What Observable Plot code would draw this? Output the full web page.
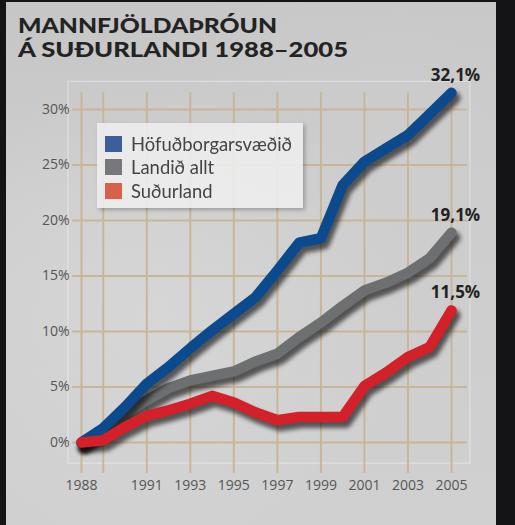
<!DOCTYPE html>
<html><head><meta charset="utf-8">
<script src="https://cdn.jsdelivr.net/npm/d3@7"></script>
<script src="https://cdn.jsdelivr.net/npm/@observablehq/plot@0.6"></script>
<style>
html,body{margin:0;padding:0;background:#141416;width:515px;height:525px;overflow:hidden}
#panel{position:absolute;left:6px;top:2px;width:490px;height:523px;
 background:
  radial-gradient(ellipse at 30% 60%, rgba(215,215,215,0.9), rgba(215,215,215,0) 55%),
  radial-gradient(ellipse at 80% 30%, rgba(205,205,205,0.8), rgba(205,205,205,0) 50%),
  linear-gradient(#c6c6c6, #cdcdcd 40%, #d0d0d0);}
#title{position:absolute;left:0;top:0;overflow:visible}
#chart{position:absolute;left:6px;top:80px}
#legend{position:absolute;left:97px;top:123px;width:206px;height:85px;background:rgba(238,238,238,0.88);box-shadow:2px 2px 4px rgba(0,0,0,0.25)}
.row{position:absolute;left:8px;height:17px;font-family:Lato,"Open Sans",sans-serif;font-size:19px;color:#444;white-space:nowrap}
.sw{position:absolute;left:0;top:0;width:17px;height:16px}
.lab{position:absolute;left:26px;top:-2px;transform-origin:0 0;line-height:20px;height:20px}
</style></head>
<body>
<div id="panel"></div>
<svg id="title" width="400" height="70"></svg>
<div id="chart"></div>
<div id="legend"></div>
<script>
const titleLines = ["MANNFJÖLDAÞRÓUN", "Á SUÐURLANDI 1988–2005"];
const years = [1988,1989,1990,1991,1992,1993,1994,1995,1996,1997,1998,1999,2000,2001,2002,2003,2004,2005];
const hofud = [0,1.3,3.2,5.3,6.8,8.5,10.1,11.6,13.1,15.5,18.0,18.4,23.2,25.3,26.5,27.7,29.6,31.5];
const landid = [0,1.1,2.6,3.8,4.9,5.6,6.0,6.4,7.3,8.0,9.5,10.8,12.3,13.7,14.4,15.3,16.6,18.9];
const sudur = [0,0.2,1.4,2.4,2.9,3.5,4.2,3.6,2.7,2.0,2.3,2.3,2.3,5.1,6.3,7.7,8.6,11.9];
const seriesNames = ["Höfuðborgarsvæðið","Landið allt","Suðurland"];
const lineColors = ["#0b4a8c","#6e6f71","#d42029"];
const legendColors = ["#3b5f9b","#77787b","#d6624b"];
const endLabels = ["32,1%","19,1%","11,5%"];
const xTicks = [1988,1991,1993,1995,1997,1999,2001,2003,2005];
const xGrid = [1988,1989,1991,1993,1995,1997,1999,2001,2003,2005];
const yTicks = [0,5,10,15,20,25,30];

// title: one text element, two lines
const tsvg = d3.select("#title");
const ttext = tsvg.append("text")
  .attr("font-family", "Lato, 'Open Sans', sans-serif").attr("font-weight", 900)
  .attr("font-size", 20).attr("fill", "#232323");
const targets = [259, 330], baselines = [32.5, 56.5];
titleLines.forEach((line, i) => {
  ttext.append("tspan").attr("x", 18).attr("y", baselines[i])
    .attr("textLength", targets[i]).attr("lengthAdjust", "spacingAndGlyphs").text(line);
});

const values = [hofud, landid, sudur];
const data = [];
values.forEach((arr, s) => arr.forEach((v, i) => data.push({year: years[i], value: v, series: seriesNames[s]})));
const drawOrder = [1, 0, 2];
const ends = values.map((arr, s) => ({year: years[years.length - 1], value: arr[arr.length - 1], label: endLabels[s]}));

const grid = "#c9b699";
const marks = [
  Plot.rect([{x1: 1987.4, x2: 2005.87, y1: -1.9, y2: 32.5}], {x1: "x1", x2: "x2", y1: "y1", y2: "y2", fill: "none", stroke: "#ffffff", strokeOpacity: 0.45, strokeWidth: 1}),
  Plot.ruleX(xGrid, {x: d => d, y1: -2.8, y2: 31.5, stroke: grid, strokeWidth: 2}),
  Plot.ruleY(yTicks, {y: d => d, x1: 1987.6, x2: 2005.74, stroke: grid, strokeWidth: 2}),
  Plot.axisX({ticks: xTicks, tickFormat: d => String(d), tickSize: 0, tickPadding: 38, fontSize: 14, fill: "#565656", label: null}),
  Plot.axisY({ticks: yTicks, tickFormat: d => d + "%", tickSize: 0, tickPadding: 12, fontSize: 14, fill: "#565656", label: null}),
];
for (const s of drawOrder) {
  const rows = data.filter(d => d.series === seriesNames[s]);
  marks.push(Plot.line(rows, {x: "year", y: "value", stroke: "#000", strokeOpacity: 0.6, strokeWidth: 12, dx: 3, dy: 5, strokeLinecap: "round", strokeLinejoin: "round"}));
  marks.push(Plot.line(rows, {x: "year", y: "value", stroke: lineColors[s], strokeWidth: 10.5, strokeLinecap: "round", strokeLinejoin: "round"}));
}
marks.push(Plot.text(ends, {x: "year", y: "value", text: "label", dx: 4, dy: -12, fontSize: 17, fontWeight: "bold", fill: "#222", lineAnchor: "bottom", textAnchor: "middle"}));

const plot = Plot.plot({
  width: 490, height: 445,
  marginLeft: 75, marginRight: 45, marginTop: 29, marginBottom: 83,
  x: {domain: [1988, 2005]},
  y: {domain: [0, 30]},
  style: {background: "transparent", fontFamily: "'Open Sans', sans-serif", overflow: "visible"},
  marks
});
document.getElementById("chart").appendChild(plot);
// soften the shadow copies of the lines (every other line group, in draw order)
d3.select(plot).selectAll("g[aria-label=line]").filter((d, i) => i % 2 === 0)
  .style("filter", "blur(2px)");

// legend
const lg = document.getElementById("legend");
const rowsTop = [13, 36, 60];
let scale = null;
seriesNames.forEach((name, i) => {
  const r = document.createElement("div"); r.className = "row"; r.style.top = rowsTop[i] + "px";
  const sw = document.createElement("div"); sw.className = "sw"; sw.style.background = legendColors[i];
  const lb = document.createElement("div"); lb.className = "lab"; lb.textContent = name;
  r.appendChild(sw); r.appendChild(lb); lg.appendChild(r);
  if (scale === null) scale = 161 / lb.getBoundingClientRect().width;
  lb.style.transform = `scaleX(${scale})`;
});
</script>
</body></html>
